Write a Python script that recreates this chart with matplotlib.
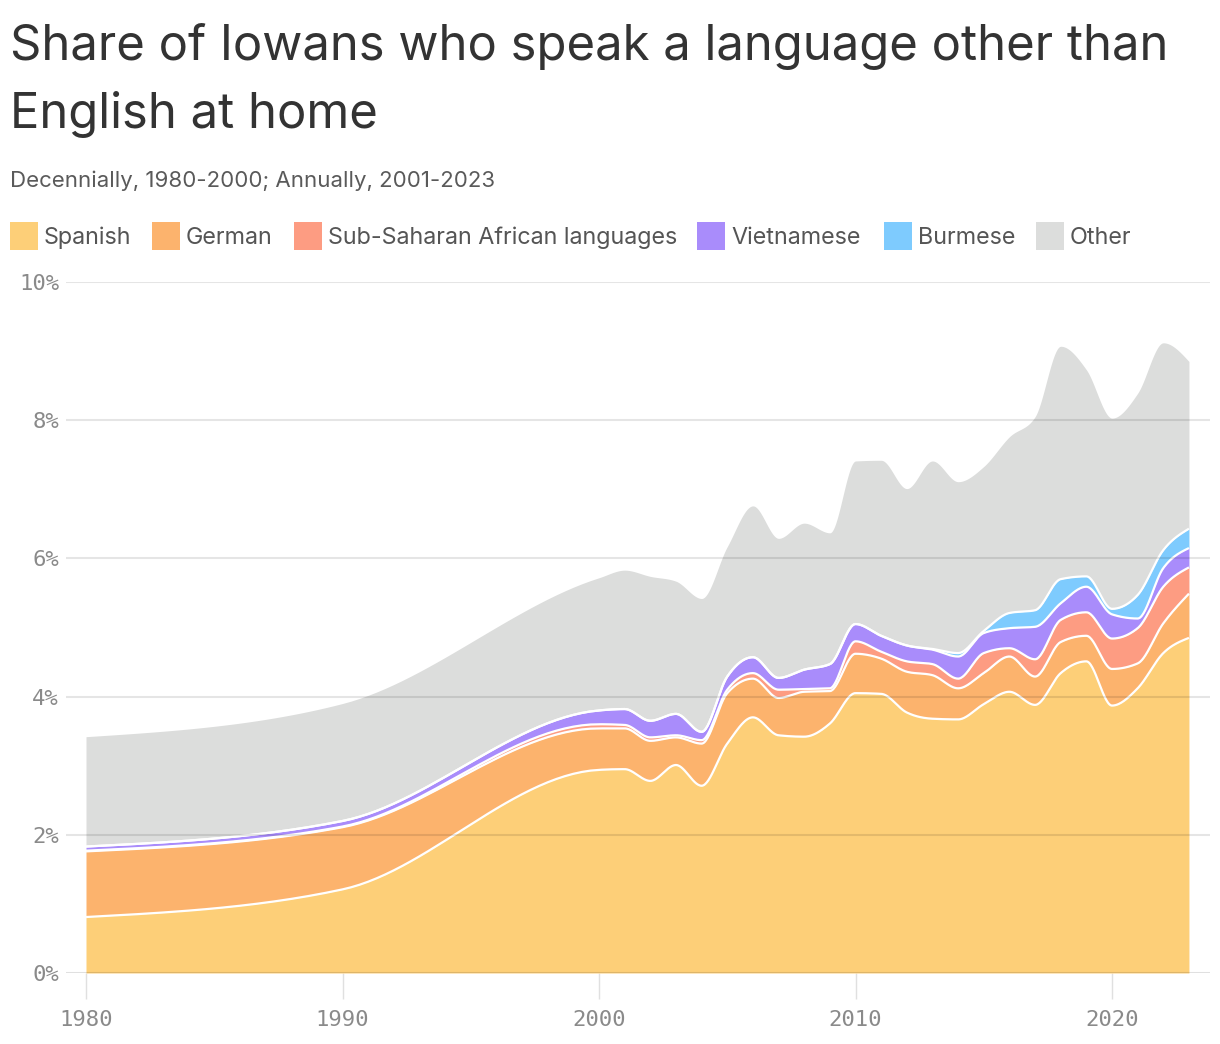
import numpy as np
import matplotlib.pyplot as plt
from matplotlib.patches import Rectangle

# ---- data (percent of Iowans) ----
years = [1980, 1990, 2000] + list(range(2001, 2024))
spanish = [0.81, 1.21, 2.94, 2.95, 2.78, 3.01, 2.71, 3.32, 3.70, 3.44, 3.42, 3.61, 4.05,
           4.04, 3.77, 3.68, 3.67, 3.89, 4.07, 3.88, 4.34, 4.51, 3.87, 4.12, 4.63, 4.85]
german = [0.95, 0.90, 0.60, 0.59, 0.58, 0.40, 0.61, 0.73, 0.56, 0.54, 0.65, 0.47, 0.57,
          0.51, 0.59, 0.63, 0.45, 0.45, 0.51, 0.41, 0.45, 0.37, 0.53, 0.36, 0.43, 0.64]
sub_saharan = [0.01, 0.01, 0.06, 0.05, 0.05, 0.03, 0.05, 0.05, 0.08, 0.12, 0.04, 0.04, 0.18,
               0.10, 0.15, 0.16, 0.14, 0.29, 0.12, 0.25, 0.32, 0.34, 0.44, 0.51, 0.53, 0.38]
vietnamese = [0.06, 0.08, 0.20, 0.23, 0.24, 0.31, 0.12, 0.19, 0.23, 0.17, 0.28, 0.35, 0.25,
              0.23, 0.23, 0.21, 0.32, 0.29, 0.29, 0.47, 0.24, 0.37, 0.35, 0.14, 0.27, 0.28]
burmese = [0, 0, 0, 0, 0, 0, 0, 0, 0, 0, 0, 0, 0,
           0, 0, 0.01, 0.05, 0.03, 0.22, 0.24, 0.35, 0.15, 0.08, 0.34, 0.26, 0.28]
other = [1.59, 1.70, 1.92, 2.01, 2.09, 1.92, 1.93, 1.88, 2.19, 2.02, 2.12, 1.90, 2.36,
         2.54, 2.27, 2.72, 2.48, 2.38, 2.55, 2.80, 3.37, 2.99, 2.76, 2.92, 3.00, 2.42]

names = ["Spanish", "German", "Sub-Saharan African languages", "Vietnamese", "Burmese", "Other"]
colors = ["#fdcf78", "#fcb36d", "#fd9c82", "#a98cfb", "#7ecbfe", "#dcdddc"]
series = [spanish, german, sub_saharan, vietnamese, burmese, other]


def monotone_x(x, y, n=30):
    """d3.curveMonotoneX style interpolation"""
    x = np.asarray(x, float)
    y = np.asarray(y, float)
    h = np.diff(x)
    s = np.diff(y) / h
    t = np.zeros_like(y)
    for i in range(1, len(x) - 1):
        p = (s[i - 1] * h[i] + s[i] * h[i - 1]) / (h[i - 1] + h[i])
        sg = (1 if s[i - 1] >= 0 else -1) + (1 if s[i] >= 0 else -1)
        t[i] = sg * min(abs(s[i - 1]), abs(s[i]), 0.5 * abs(p))
    t[0] = (3 * s[0] - t[1]) / 2
    t[-1] = (3 * s[-1] - t[-2]) / 2
    xs, ys = [], []
    for i in range(len(x) - 1):
        u = np.linspace(0, 1, n, endpoint=(i == len(x) - 2))
        dx = h[i]
        h00 = 2 * u**3 - 3 * u**2 + 1
        h10 = u**3 - 2 * u**2 + u
        h01 = -2 * u**3 + 3 * u**2
        h11 = u**3 - u**2
        xs.append(x[i] + u * dx)
        ys.append(h00 * y[i] + h10 * dx * t[i] + h01 * y[i + 1] + h11 * dx * t[i + 1])
    return np.concatenate(xs), np.concatenate(ys)


W, H = 1220, 1044
fig = plt.figure(figsize=(W / 100, H / 100), dpi=100)
ax = fig.add_axes([66 / W, (H - 973) / H, (1210 - 66) / W, (973 - 282) / H])

tops = np.cumsum(np.array(series, float), axis=0)
curves = [monotone_x(years, row) for row in tops]
xs = curves[0][0]
lower = np.zeros_like(xs)
for (cx, cy), col in zip(curves, colors):
    ax.fill_between(cx, lower, cy, color=col, lw=0, zorder=2)
    lower = cy
for cx, cy in curves[:-1]:
    ax.plot(cx, cy, color="white", lw=1.6, zorder=3, solid_capstyle="butt")

for v in range(0, 11, 2):
    ax.axhline(v, color="black", alpha=0.1 if v else 0.12, lw=1.5, zorder=4)

ax.set_xlim(1980 - 20 / 25.65, 1980 + 1124 / 25.65)
ax.set_ylim(0, 10)
for sp in ax.spines.values():
    sp.set_visible(False)

ax.set_yticks(range(0, 11, 2))
ax.set_yticklabels([f"{v}%" for v in range(0, 11, 2)])
ax.tick_params(axis="y", length=0, pad=5, labelsize=16, labelcolor="#8a8a8a")
ax.set_xticks(range(1980, 2021, 10))
ax.tick_params(axis="x", length=19, width=1, color="#e0e0e0", pad=7.5,
               labelsize=16, labelcolor="#8a8a8a")
for lab in ax.get_xticklabels() + ax.get_yticklabels():
    lab.set_family("DejaVu Sans Mono")

# titles
fig.text(10 / W, 1 - 60 / H, "Share of Iowans who speak a language other than",
         ha="left", va="baseline", fontsize=35.3, color="#333333", family="Inter")
fig.text(10 / W, 1 - 128 / H, "English at home",
         ha="left", va="baseline", fontsize=35.3, color="#333333", family="Inter")
fig.text(10 / W, 1 - 187 / H, "Decennially, 1980-2000; Annually, 2001-2023",
         ha="left", va="baseline", fontsize=16, color="#5a5a5a", family="Inter")

# legend
leg_x = [10, 152, 294, 697, 884, 1036]
for lx, name, col in zip(leg_x, names, colors):
    fig.patches.append(Rectangle((lx / W, 1 - 250 / H), 28 / W, 28 / H,
                                 transform=fig.transFigure, color=col, lw=0))
    fig.text((lx + 34) / W, 1 - 237.5 / H, name, ha="left", va="center",
             fontsize=16.8, color="#555555", family="Inter")

fig.savefig("out.png", dpi=100, facecolor="white")
